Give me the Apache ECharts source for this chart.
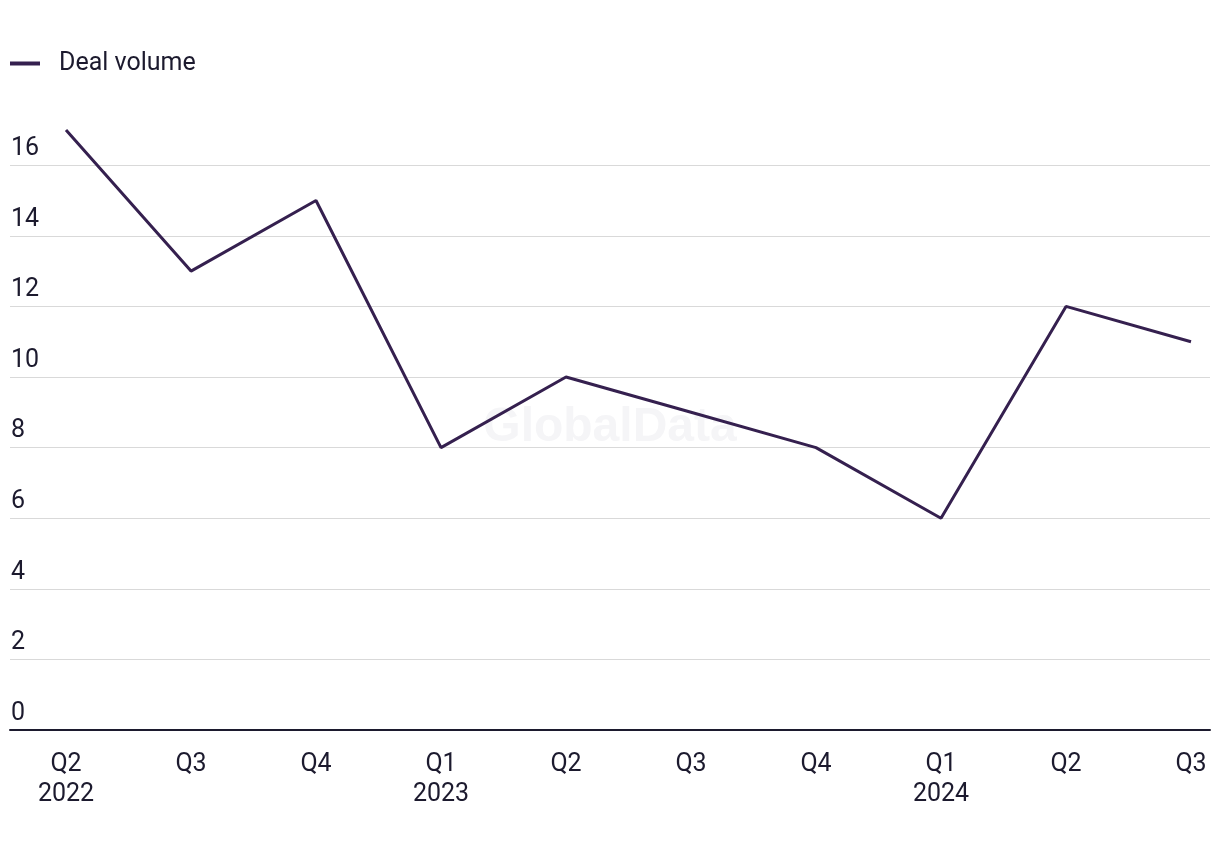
<!DOCTYPE html>
<html>
<head>
<meta charset="utf-8">
<script src="https://cdn.jsdelivr.net/npm/echarts@6/dist/echarts.min.js"></script>
<style>html,body{margin:0;padding:0;background:#fff}#c{width:1220px;height:850px}</style>
</head>
<body>
<div id="c"></div>
<script>
var categories = ['Q2\n2022','Q3','Q4','Q1\n2023','Q2','Q3','Q4','Q1\n2024','Q2','Q3'];
var dealVolume = [17, 13, 15, 8, 10, 9, 8, 6, 12, 11];
var yTicks = [0, 2, 4, 6, 8, 10, 12, 14, 16];

var textColor = '#1c1a2e';
var lineColor = '#35204f';
var font = 'Roboto, "Noto Sans", sans-serif';
var fs = 25;
var yMax = 18;

var chart = echarts.init(document.getElementById('c'));
chart.setOption({
  animation: false,
  legend: {
    left: 10, top: 51, padding: 0,
    itemWidth: 30, itemHeight: 4, itemGap: 20,
    icon: 'rect',
    textStyle: { color: textColor, fontSize: fs, fontFamily: font, padding: [0,0,0,14] },
    data: ['Deal volume']
  },
  graphic: [{
    type: 'text', left: 'center', top: 404, z: 0,
    style: { text: 'GlobalData', fontSize: 48, fontWeight: 'bold', fontFamily: '"Liberation Sans", Arial, sans-serif', fill: '#f5f5f7' }
  }],
  grid: [
    { left: 10, right: 10, top: 94.6, bottom: 120 },
    { left: 66, right: 29, top: 94.6, bottom: 120 }
  ],
  xAxis: [
    { gridIndex: 0, type: 'value', min: 0, max: 1, show: true,
      axisLine: { show: true, onZero: false, lineStyle: { color: textColor, width: 2 } },
      axisTick: { show: false }, axisLabel: { show: false }, splitLine: { show: false } },
    { gridIndex: 1, type: 'category', data: categories, boundaryGap: false,
      axisLine: { show: false }, axisTick: { show: false }, splitLine: { show: false },
      axisLabel: { color: textColor, fontSize: fs, fontFamily: font, lineHeight: 30, margin: 20, interval: 0 } }
  ],
  yAxis: [
    { gridIndex: 0, type: 'value', min: 0, max: yMax, interval: 2,
      axisLine: { show: false }, axisTick: { show: false },
      splitLine: { show: true, showMaxLine: false, lineStyle: { color: '#d9d9d9', width: 1 } },
      axisLabel: {
        inside: true, margin: 1, verticalAlign: 'bottom', padding: [0,0,4,0],
        color: textColor, fontSize: fs, fontFamily: font, showMaxLabel: false,
        formatter: function (v) { return yTicks.indexOf(v) >= 0 ? String(v) : ''; }
      } },
    { gridIndex: 1, type: 'value', min: 0, max: yMax, interval: 2, show: false }
  ],
  series: [{
    name: 'Deal volume', type: 'line', xAxisIndex: 1, yAxisIndex: 1,
    data: dealVolume, symbol: 'none', z: 5,
    lineStyle: { color: lineColor, width: 3 },
    itemStyle: { color: lineColor }
  }]
});
</script>
</body>
</html>
